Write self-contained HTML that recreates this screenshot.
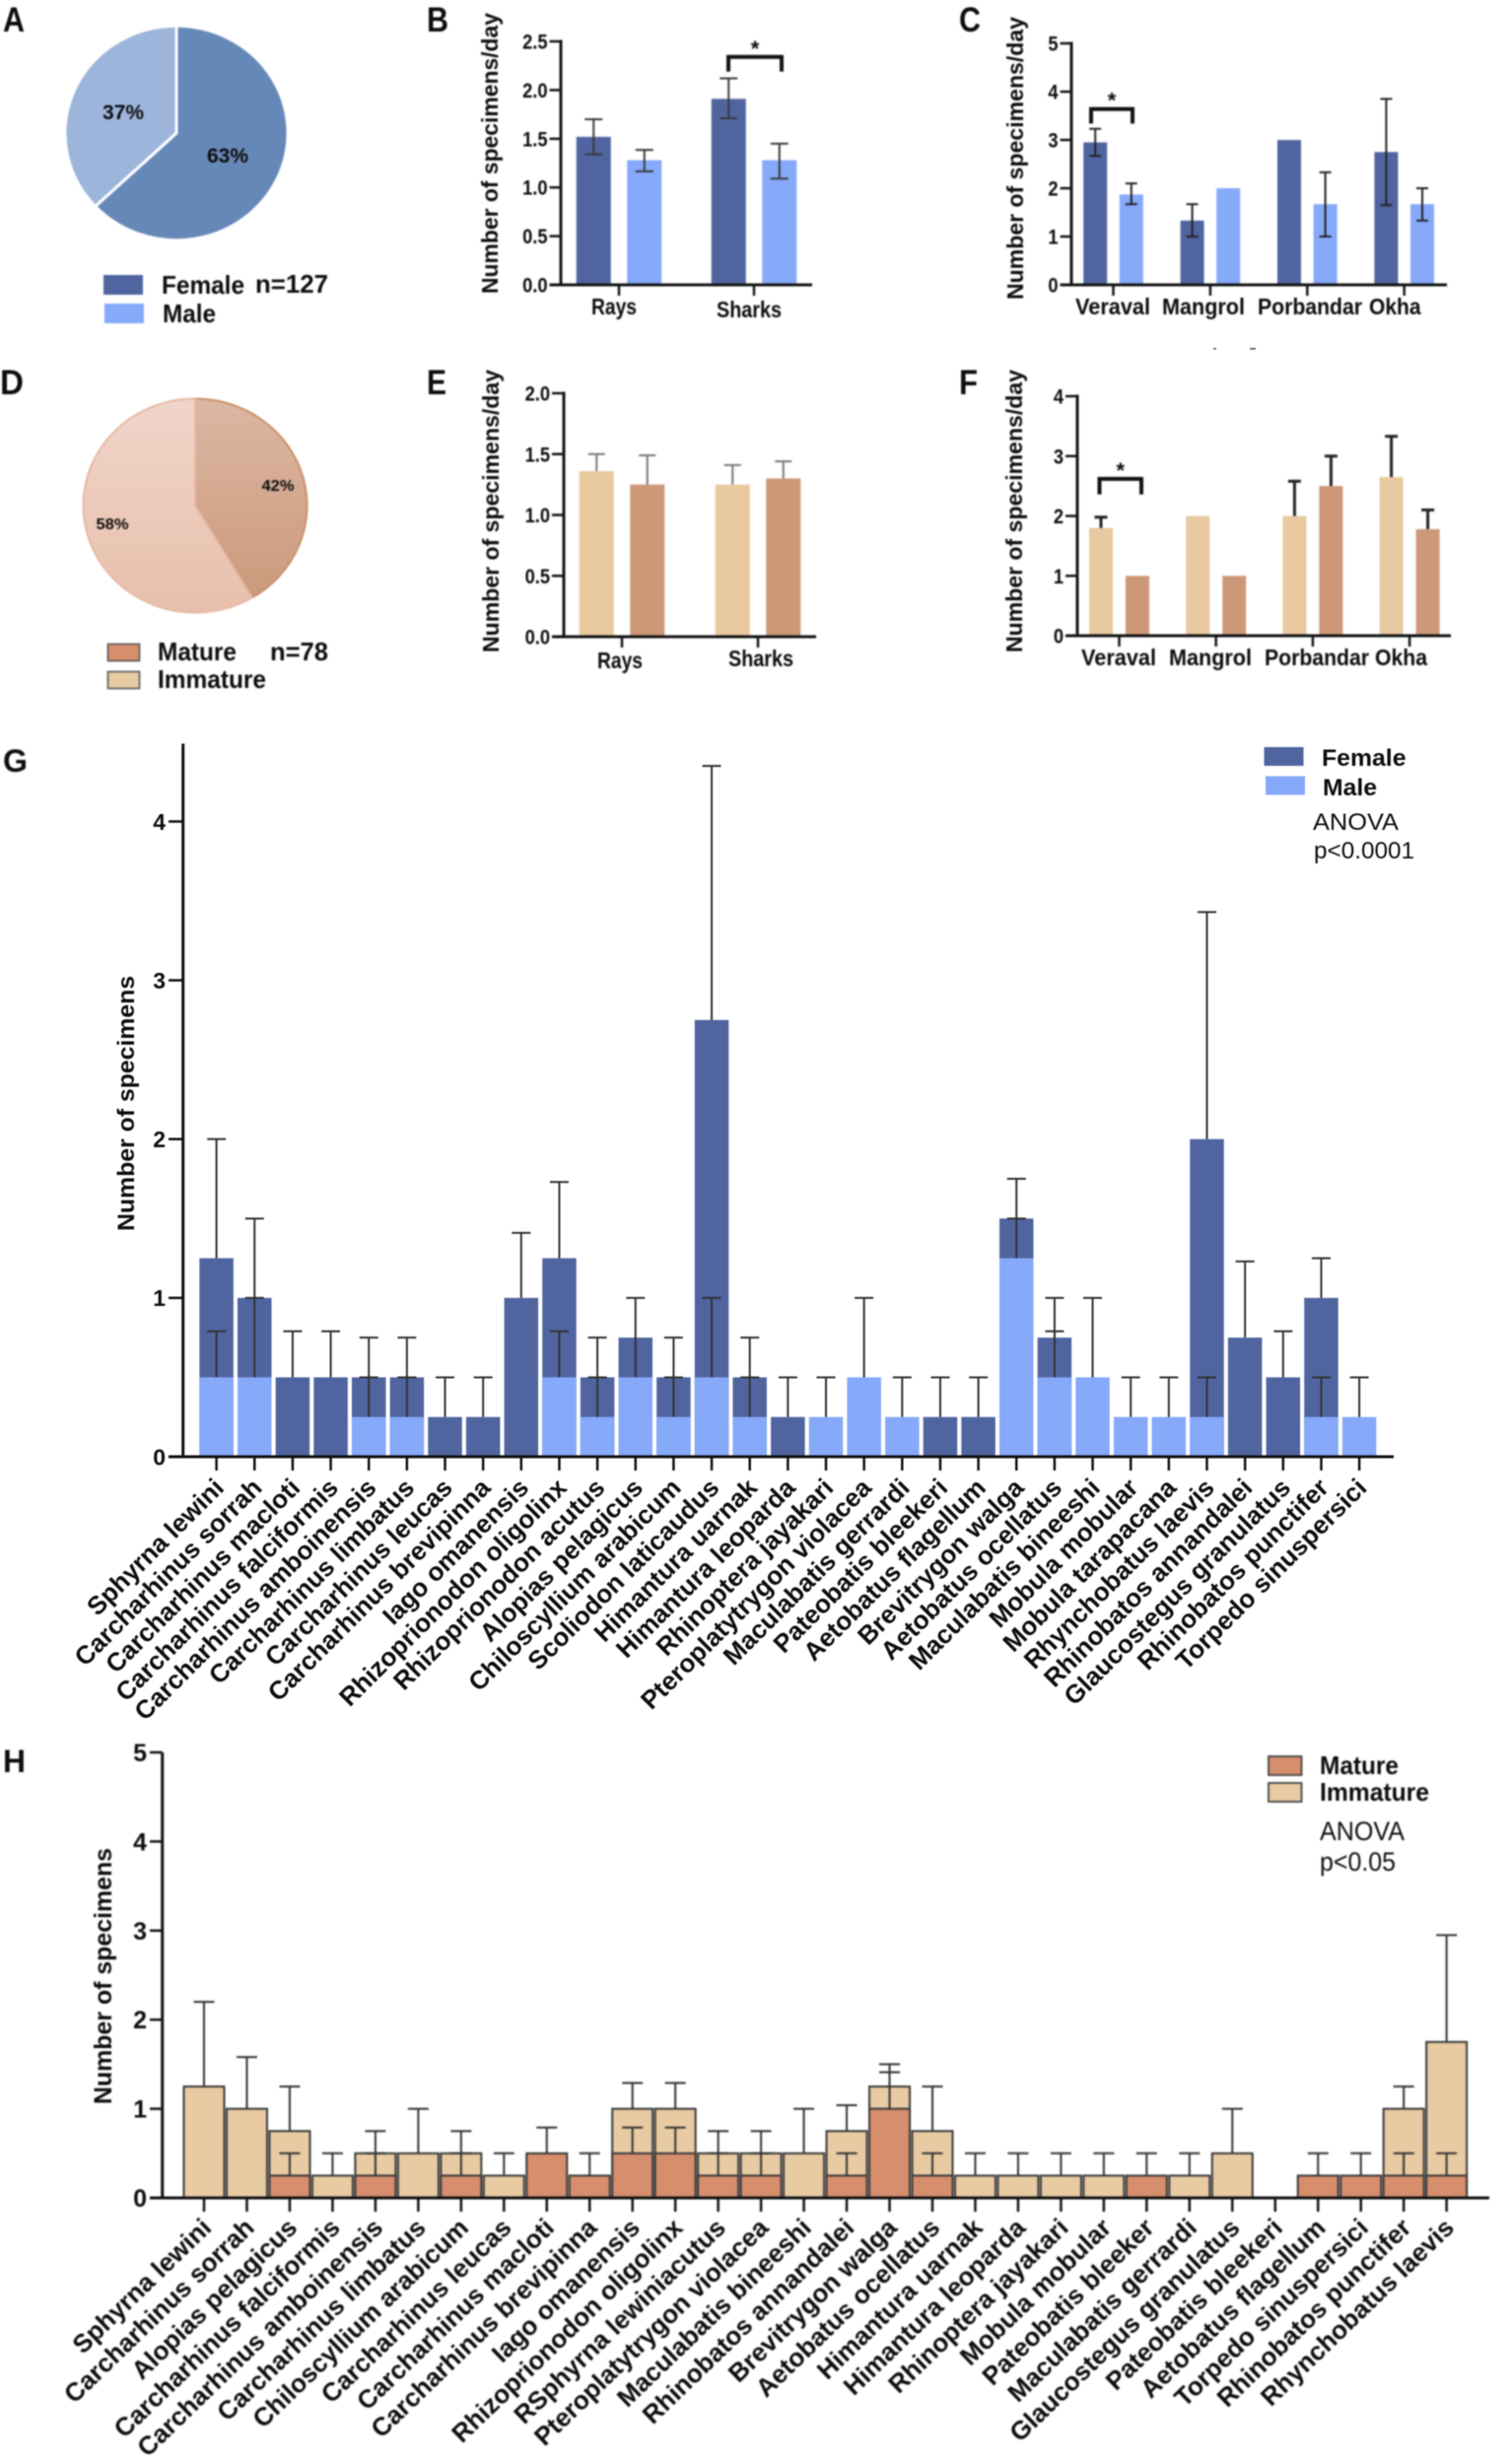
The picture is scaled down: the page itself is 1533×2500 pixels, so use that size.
<!DOCTYPE html>
<html lang="en">
<head>
<meta charset="utf-8">
<title>Elasmobranch landings by sex and maturity</title>
<style>
html,body{margin:0;padding:0;background:#fff;}
svg{display:block;filter:blur(0.45px);}
text{font-family:"Liberation Sans",Arial,sans-serif;fill:#0d0d0d;}
.b{font-weight:bold;}
.soft{filter:blur(0.5px);}
</style>
</head>
<body>
<svg id="fig" xmlns="http://www.w3.org/2000/svg" width="1533" height="2500" viewBox="0 0 1533 2500">
<defs>
<linearGradient id="matureGrad" x1="0" y1="0" x2="0" y2="1"><stop offset="0" stop-color="#dcb7a3"/><stop offset="1" stop-color="#cc9a7c"/></linearGradient>
<linearGradient id="immatureGrad" x1="0" y1="0" x2="0" y2="1"><stop offset="0" stop-color="#f1d6ca"/><stop offset="1" stop-color="#e8bfac"/></linearGradient>
</defs>

<g class="soft">
<text class="b" x="3" y="32" font-size="35" textLength="22" lengthAdjust="spacingAndGlyphs">A</text>
<text class="b" x="433" y="32" font-size="35" textLength="22" lengthAdjust="spacingAndGlyphs">B</text>
<text class="b" x="973" y="32" font-size="35" textLength="22" lengthAdjust="spacingAndGlyphs">C</text>
<text class="b" x="0" y="400" font-size="35" textLength="24" lengthAdjust="spacingAndGlyphs">D</text>
<text class="b" x="433" y="400" font-size="35" textLength="20" lengthAdjust="spacingAndGlyphs">E</text>
<text class="b" x="973" y="400" font-size="35" textLength="19" lengthAdjust="spacingAndGlyphs">F</text>
<text class="b" x="3" y="783" font-size="32" textLength="25" lengthAdjust="spacingAndGlyphs">G</text>
<text class="b" x="3" y="1798" font-size="32" textLength="23" lengthAdjust="spacingAndGlyphs">H</text>
</g>

<g id="pieA" class="soft"></g>
<g class="soft">
<rect x="105" y="279" width="40" height="20" fill="#5065a0"/>
<rect x="106" y="308" width="40" height="20" fill="#86a9fa"/>
<text class="b" x="164" y="298" font-size="26" textLength="84" lengthAdjust="spacingAndGlyphs">Female</text>
<text class="b" x="259" y="297" font-size="26" textLength="74" lengthAdjust="spacingAndGlyphs">n=127</text>
<text class="b" x="165" y="327" font-size="26" textLength="54" lengthAdjust="spacingAndGlyphs">Male</text>
</g>

<g id="chartB" class="soft"></g>
<g id="chartC" class="soft"></g>

<g id="pieD" class="soft"></g>
<g class="soft">
<rect x="109.5" y="653.5" width="32" height="17" fill="#d68e6c" stroke="#555" stroke-width="1.6"/>
<rect x="109.5" y="681.5" width="32" height="17" fill="#e8cba2" stroke="#555" stroke-width="1.6"/>
<text class="b" x="160" y="670" font-size="26" textLength="80" lengthAdjust="spacingAndGlyphs">Mature</text>
<text class="b" x="274" y="670" font-size="26" textLength="59" lengthAdjust="spacingAndGlyphs">n=78</text>
<text class="b" x="160" y="698" font-size="26" textLength="110" lengthAdjust="spacingAndGlyphs">Immature</text>
</g>

<g id="chartE" class="soft"></g>
<g id="chartF" class="soft"></g>
<rect x="1231" y="353" width="3" height="1.6" fill="#555"/>
<rect x="1268" y="353" width="6" height="1.6" fill="#555"/>

<g id="chartG"></g>
<g>
<rect x="1282.5" y="758" width="40" height="19" fill="#5065a0"/>
<rect x="1284" y="787.5" width="40" height="19" fill="#86a9fa"/>
<text class="b" x="1341" y="777" font-size="24" textLength="85.5" lengthAdjust="spacingAndGlyphs">Female</text>
<text class="b" x="1342" y="807" font-size="24" textLength="55" lengthAdjust="spacingAndGlyphs">Male</text>
<text x="1332" y="842" font-size="24" textLength="87" lengthAdjust="spacingAndGlyphs">ANOVA</text>
<text x="1333" y="871" font-size="24" textLength="102" lengthAdjust="spacingAndGlyphs">p&lt;0.0001</text>
</g>

<g id="chartH" class="soft"></g>
<g class="soft">
<rect x="1287" y="1782" width="33.5" height="19" fill="#d68e6c" stroke="#444" stroke-width="1.8"/>
<rect x="1287" y="1809" width="33.5" height="19" fill="#e8cba2" stroke="#444" stroke-width="1.8"/>
<text class="b" x="1339" y="1800" font-size="26" textLength="80" lengthAdjust="spacingAndGlyphs">Mature</text>
<text class="b" x="1339" y="1827" font-size="26" textLength="111" lengthAdjust="spacingAndGlyphs">Immature</text>
<text x="1339" y="1867" font-size="27" textLength="86" lengthAdjust="spacingAndGlyphs">ANOVA</text>
<text x="1339" y="1898" font-size="27" textLength="77" lengthAdjust="spacingAndGlyphs">p&lt;0.05</text>
</g>
</svg>

<script>
/* ---------- data: pies ---------- */
const sexShare = [63, 37];
const sexShareLabels = ["63%", "37%"];
const maturityShare = [41.5, 58.5];
const maturityShareLabels = ["42%", "58%"];

/* ---------- data: panel B ---------- */
const bGroups = ["Rays", "Sharks"];
const bTicks = ["0.0", "0.5", "1.0", "1.5", "2.0", "2.5"];
const bFemale = [1.52, 1.91];
const bFemaleHigh = [1.70, 2.12];
const bFemaleLow = [1.34, 1.71];
const bMale = [1.28, 1.28];
const bMaleHigh = [1.385, 1.45];
const bMaleLow = [1.165, 1.09];

/* ---------- data: panel C ---------- */
const cSites = ["Veraval", "Mangrol", "Porbandar", "Okha"];
const cTicks = ["0", "1", "2", "3", "4", "5"];
const cFemale = [2.95, 1.33, 3, 2.75];
const cFemaleHigh = [3.23, 1.67, null, 3.85];
const cFemaleLow = [2.67, 1.0, null, 1.65];
const cMale = [1.87, 2, 1.67, 1.67];
const cMaleHigh = [2.1, null, 2.33, 2.0];
const cMaleLow = [1.67, null, 1.0, 1.33];

/* ---------- data: panel E ---------- */
const eGroups = ["Rays", "Sharks"];
const eTicks = ["0.0", "0.5", "1.0", "1.5", "2.0"];
const eImmature = [1.36, 1.25];
const eImmatureHigh = [1.5, 1.41];
const eMature = [1.25, 1.3];
const eMatureHigh = [1.49, 1.44];

/* ---------- data: panel F ---------- */
const fSites = ["Veraval", "Mangrol", "Porbandar", "Okha"];
const fTicks = ["0", "1", "2", "3", "4"];
const fImmature = [1.8, 2, 2, 2.65];
const fImmatureHigh = [1.98, null, 2.58, 3.33];
const fMature = [1, 1, 2.5, 1.78];
const fMatureHigh = [null, null, 3.0, 2.1];

/* ---------- data: panel G ---------- */
const gSpecies = ["Sphyrna lewini","Carcharhinus sorrah","Carcharhinus macloti","Carcharhinus falciformis","Carcharhinus amboinensis","Carcharhinus limbatus","Carcharhinus leucas","Carcharhinus brevipinna","Iago omanensis","Rhizoprionodon oligolinx","Rhizoprionodon acutus","Alopias pelagicus","Chiloscyllium arabicum","Scoliodon laticaudus","Himantura uarnak","Himantura leoparda","Rhinoptera jayakari","Pteroplatytrygon violacea","Maculabatis gerrardi","Pateobatis bleekeri","Aetobatus flagellum","Brevitrygon walga","Aetobatus ocellatus","Maculabatis bineeshi","Mobula mobular","Mobula tarapacana","Rhynchobatus laevis","Rhinobatos annandalei","Glaucostegus granulatus","Rhinobatos punctifer","Torpedo sinuspersici"];
const gTicks = ["0", "1", "2", "3", "4"];
const gFemale = [1.25,1,0.5,0.5,0.5,0.5,0.25,0.25,1,1.25,0.5,0.75,0.5,2.75,0.5,0.25,0,0,0,0.25,0.25,1.5,0.75,0,0,0,2,0.75,0.5,1,0];
const gFemaleHigh = [2,1.5,0.79,0.79,0.75,0.75,0.5,0.5,1.41,1.73,0.75,null,0.75,4.35,0.75,0.5,null,null,null,0.5,0.5,1.75,1,null,null,null,3.43,1.23,0.79,1.25,null];
const gMale = [0.5,0.5,0,0,0.25,0.25,0,0,0,0.5,0.25,0.5,0.25,0.5,0.25,0,0.25,0.5,0.25,0,0,1.25,0.5,0.5,0.25,0.25,0.25,0,0,0.25,0.25];
const gMaleHigh = [0.79,1,null,null,0.5,0.5,null,null,null,0.79,0.5,1,0.5,1,0.5,null,0.5,1,0.5,null,null,1.5,0.79,1,0.5,0.5,0.5,null,null,0.5,0.5];

/* ---------- data: panel H ---------- */
const hSpecies = ["Sphyrna lewini","Carcharhinus sorrah","Alopias pelagicus","Carcharhinus falciformis","Carcharhinus amboinensis","Carcharhinus limbatus","Chiloscyllium arabicum","Carcharhinus leucas","Carcharhinus macloti","Carcharhinus brevipinna","Iago omanensis","Rhizoprionodon oligolinx","RSphyrna lewiniacutus","Pteroplatytrygon violacea","Maculabatis bineeshi","Rhinobatos annandalei","Brevitrygon walga","Aetobatus ocellatus","Himantura uarnak","Himantura leoparda","Rhinoptera jayakari","Mobula mobular","Pateobatis bleeker","Maculabatis gerrardi","Glaucostegus granulatus","Pateobatis bleekeri","Aetobatus flagellum","Torpedo sinuspersici","Rhinobatos punctifer","Rhynchobatus laevis"];
const hTicks = ["0", "1", "2", "3", "4", "5"];
const hImmature = [1.25,1,0.75,0.25,0.5,0.5,0.5,0.25,0,0,1,1,0.5,0.5,0.5,0.75,1.25,0.75,0.25,0.25,0.25,0.25,0,0.25,0.5,0,0,0,1,1.75];
const hImmatureHigh = [2.2,1.58,1.25,0.5,0.75,1,0.75,0.5,null,null,1.29,1.29,0.75,0.75,1,1.04,1.5,1.25,0.5,0.5,0.5,0.5,null,0.5,1,null,null,null,1.25,2.95];
const hMature = [0,0,0.25,0,0.25,0,0.25,0,0.5,0.25,0.5,0.5,0.25,0.25,0,0.25,1,0.25,0,0,0,0,0.25,0,0,0,0.25,0.25,0.25,0.25];
const hMatureHigh = [null,null,0.5,null,0.5,null,0.5,null,0.79,0.5,0.79,0.79,0.5,0.5,null,0.5,1.41,0.5,null,null,null,null,0.5,null,null,null,0.5,0.5,0.5,0.5];

/* ---------- significance annotations (value level of bracket top and foot) ---------- */
const bBracketLevels = [2.34, 2.19];
const cBracketLevels = [3.64, 3.34];
const fBracketLevels = [2.62, 2.36];

const NS = "http://www.w3.org/2000/svg";
const C_DARK = "#5065a0", C_BLUE = "#86a9fa", C_TAN = "#e8c9a0", C_BROWN = "#cc9878", C_ORANGE = "#d68e6c";

function add(parent, tag, attrs, name) {
  const el = document.createElementNS(NS, tag);
  for (const k in attrs) el.setAttribute(k, attrs[k]);
  
  
  parent.appendChild(el);
  return el;
}
function label(parent, str, attrs, name) {
  const el = add(parent, "text", attrs, name);
  el.textContent = str;
  return el;
}
function linearY(y0, yTop, maxVal) {
  return v => y0 - (y0 - yTop) * v / maxVal;
}
function line(parent, x1, y1, x2, y2, color, w, name) {
  return add(parent, "line", {x1, y1, x2, y2, stroke: color, "stroke-width": w}, name);
}
function errorBar(parent, x, yA, yB, capW, color, w, lower) {
  line(parent, x, yA, x, yB, color, w, "error-bar-stem");
  line(parent, x - capW / 2, yB, x + capW / 2, yB, color, w, "error-bar-cap");
  if (lower !== undefined) line(parent, x - capW / 2, lower, x + capW / 2, lower, color, w, "error-bar-cap");
}

/* Pie drawn clockwise from twelve o'clock, sweep taken from the share values */
function pie(parent, cx, cy, rx, ry, shares, fills, strokes, strokeW) {
  const total = shares.reduce((a, b) => a + b, 0);
  let a0 = 0;
  shares.forEach((s, i) => {
    const a1 = a0 + s / total * 2 * Math.PI;
    const x0 = cx + rx * Math.sin(a0), y0 = cy - ry * Math.cos(a0);
    const x1 = cx + rx * Math.sin(a1), y1 = cy - ry * Math.cos(a1);
    const large = (a1 - a0) > Math.PI ? 1 : 0;
    add(parent, "path", {
      d: `M${cx} ${cy}L${x0} ${y0}A${rx} ${ry} 0 ${large} 1 ${x1} ${y1}Z`,
      fill: fills[i], stroke: strokes[i], "stroke-width": strokeW, "stroke-linejoin": "round"
    }, "pie-slice");
    a0 = a1;
  });
}

/* Small grouped bar chart (panels B, C, E, F) */
function groupedChart(o) {
  const g = document.getElementById(o.id);
  const y = linearY(o.y0, o.yTop, o.max);
  const xc = i => o.x0 + i * o.step;
  o.series.forEach((s, si) => {
    const off = (si === 0 ? -1 : 1) * o.offset;
    s.values.forEach((v, i) => {
      add(g, "rect", {x: xc(i) + off - o.barW / 2, y: y(v), width: o.barW, height: o.y0 - y(v), fill: s.color}, "bar");
    });
  });
  o.series.forEach((s, si) => {
    const off = (si === 0 ? -1 : 1) * o.offset;
    s.values.forEach((v, i) => {
      const hi = s.high[i];
      if (hi === null) return;
      const lo = s.low ? s.low[i] : null;
      const yStart = lo !== null ? y(lo) : y(v);
      errorBar(g, xc(i) + off, yStart, y(hi), o.capW, o.errColor, o.errW, lo !== null ? y(lo) : undefined);
    });
  });
  line(g, o.axisX, o.yTop - 1.5, o.axisX, o.y0 + 1.5, "#141414", 3, "y-axis-line");
  line(g, o.tickLeft, o.y0, o.xEnd, o.y0, "#141414", 3, "x-axis-line");
  o.ticks.forEach((t, i) => {
    const yy = y(i * o.max / (o.ticks.length - 1));
    line(g, o.tickLeft, yy, o.axisX, yy, "#141414", 2.5, "y-axis-tick");
    const tl = label(g, t, {x: o.tickLeft - 2, y: yy + 7.5, "text-anchor": "end", "font-size": 21, "font-weight": "bold"}, "y-tick-label");
    tl.setAttribute("textLength", tl.getComputedTextLength() * 0.87);
    tl.setAttribute("lengthAdjust", "spacingAndGlyphs");
  });
  o.groups.forEach((name, i) => {
    line(g, xc(i), o.y0, xc(i), o.y0 + 11, "#141414", 2.5, "x-axis-tick");
    const p = o.labelPos[i];
    label(g, name, {x: p[0], y: p[1], "font-size": 23, "font-weight": "bold", textLength: p[2], lengthAdjust: "spacingAndGlyphs"}, "x-tick-label");
  });
  label(g, "Number of specimens/day", {
    transform: `translate(${o.titleX} ${o.titleBottom}) rotate(-90)`, "font-size": 23, "font-weight": "bold",
    textLength: o.titleLen, lengthAdjust: "spacingAndGlyphs"
  }, "y-axis-title");
  if (o.bracket) {
    const bk = o.bracket;
    add(g, "path", {d: `M${bk.x1} ${y(bk.levels[1])}V${y(bk.levels[0])}H${bk.x2}V${y(bk.levels[1])}`, fill: "none", stroke: "#111", "stroke-width": 4}, "significance-bracket");
    label(g, "*", {x: (bk.x1 + bk.x2) / 2, y: y(bk.levels[0]) - 1, "text-anchor": "middle", "font-size": 22, "font-weight": "bold"}, "significance-star");
  }
}

/* Species overlay bar chart (panels G, H) */
function overlayChart(o) {
  const g = document.getElementById(o.id);
  const y = linearY(o.y0, o.yRef, o.refVal);
  const xc = i => o.x0 + i * o.step;
  o.back.values.forEach((v, i) => {
    if (v > 0) add(g, "rect", {x: xc(i) - o.barW / 2, y: y(v), width: o.barW, height: o.y0 - y(v), fill: o.back.color, stroke: o.stroke || "none", "stroke-width": o.strokeW || 0}, "bar-back");
  });
  o.front.values.forEach((v, i) => {
    if (v > 0) add(g, "rect", {x: xc(i) - o.barW / 2, y: y(v), width: o.barW, height: o.y0 - y(v), fill: o.front.color, stroke: o.stroke || "none", "stroke-width": o.strokeW || 0}, "bar-front");
  });
  [o.back, o.front].forEach(s => {
    s.values.forEach((v, i) => {
      if (s.high[i] !== null) errorBar(g, xc(i), y(v), y(s.high[i]), o.capW, "#333", 2, undefined);
    });
  });
  line(g, o.axisX, o.axisTop, o.axisX, o.y0 + 1.5, "#111", 3, "y-axis-line");
  line(g, o.tickLeft, o.y0, o.xEnd, o.y0, "#111", 3, "x-axis-line");
  o.ticks.forEach((t, i) => {
    const yy = y(i);
    line(g, o.tickLeft, yy, o.axisX, yy, "#111", 2.5, "y-axis-tick");
    label(g, t, {x: o.tickLeft - 3, y: yy + o.tickFont * 0.36, "text-anchor": "end", "font-size": o.tickFont, "font-weight": "bold"}, "y-tick-label");
  });
  o.categories.forEach((name, i) => {
    line(g, xc(i), o.y0, xc(i), o.y0 + 14, "#111", 2.5, "x-axis-tick");
    const lx = xc(i) + o.labelDx, ly = o.y0 + o.labelDy;
    label(g, name, {
      x: lx, y: ly, "text-anchor": "end", "font-size": o.labelFont, "font-weight": "bold",
      transform: `rotate(${o.labelAngle} ${lx} ${ly})`
    }, "species-label");
  });
  label(g, "Number of specimens", {
    transform: `translate(${o.titleX} ${o.titleBottom}) rotate(-90)`, "font-size": o.titleFont, "font-weight": "bold",
    textLength: o.titleLen, lengthAdjust: "spacingAndGlyphs"
  }, "y-axis-title");
}

/* --- render --- */
const pieAEl = document.getElementById("pieA");
pie(pieAEl, 179, 135, 113, 108.7, sexShare, ["#6688b8", "#9db5db"], ["#ffffff", "#ffffff"], 3);
label(pieAEl, sexShareLabels[0], {x: 231, y: 165, "text-anchor": "middle", "font-size": 21, "font-weight": "bold", textLength: 42, lengthAdjust: "spacingAndGlyphs"}, "pie-label-female");
label(pieAEl, sexShareLabels[1], {x: 125, y: 121, "text-anchor": "middle", "font-size": 21, "font-weight": "bold", textLength: 42, lengthAdjust: "spacingAndGlyphs"}, "pie-label-male");

const pieDEl = document.getElementById("pieD");
pie(pieDEl, 198, 513, 113.5, 108.5, maturityShare, ["url(#matureGrad)", "url(#immatureGrad)"], ["#c98f68", "#e5b9a3"], 2);
label(pieDEl, maturityShareLabels[0], {x: 282, y: 498, "text-anchor": "middle", "font-size": 16, "font-weight": "bold", textLength: 33, lengthAdjust: "spacingAndGlyphs"}, "pie-label-mature");
label(pieDEl, maturityShareLabels[1], {x: 114, y: 537, "text-anchor": "middle", "font-size": 16, "font-weight": "bold", textLength: 33, lengthAdjust: "spacingAndGlyphs"}, "pie-label-immature");

groupedChart({
  id: "chartB", y0: 289, yTop: 42, max: 2.5, x0: 628, step: 137, offset: 25.75, barW: 35, capW: 18, errColor: "#3a3a3a", errW: 2,
  axisX: 569, tickLeft: 557.5, xEnd: 824, ticks: bTicks, groups: bGroups,
  labelPos: [[600, 319, 46], [727, 322, 66]], titleX: 505, titleBottom: 298, titleLen: 285,
  series: [{values: bFemale, high: bFemaleHigh, low: bFemaleLow, color: C_DARK}, {values: bMale, high: bMaleHigh, low: bMaleLow, color: C_BLUE}],
  bracket: {x1: 739, x2: 793, levels: bBracketLevels}
});
groupedChart({
  id: "chartC", y0: 289, yTop: 44, max: 5, x0: 1129.5, step: 98.4, offset: 18.3, barW: 24, capW: 12, errColor: "#222", errW: 2,
  axisX: 1087, tickLeft: 1075.6, xEnd: 1468, ticks: cTicks, groups: cSites,
  labelPos: [[1091, 319, 76], [1179, 319, 84], [1276, 319, 106], [1389, 319, 52.5]], titleX: 1038, titleBottom: 304, titleLen: 287,
  series: [{values: cFemale, high: cFemaleHigh, low: cFemaleLow, color: C_DARK}, {values: cMale, high: cMaleHigh, low: cMaleLow, color: C_BLUE}],
  bracket: {x1: 1107, x2: 1149, levels: cBracketLevels}
});
groupedChart({
  id: "chartE", y0: 646, yTop: 399, max: 2, x0: 631, step: 138, offset: 25.75, barW: 35, capW: 17, errColor: "#777", errW: 2,
  axisX: 572, tickLeft: 560, xEnd: 828, ticks: eTicks, groups: eGroups,
  labelPos: [[606, 678, 46], [739, 676, 66]], titleX: 506, titleBottom: 662, titleLen: 287,
  series: [{values: eImmature, high: eImmatureHigh, color: C_TAN}, {values: eMature, high: eMatureHigh, color: C_BROWN}]
});
groupedChart({
  id: "chartF", y0: 645, yTop: 402, max: 4, x0: 1135.5, step: 98.2, offset: 18.5, barW: 24, capW: 13, errColor: "#222", errW: 3,
  axisX: 1093, tickLeft: 1081, xEnd: 1472, ticks: fTicks, groups: fSites,
  labelPos: [[1097, 675, 76], [1186, 675, 84], [1283, 675, 106], [1395, 675, 53]], titleX: 1037, titleBottom: 662, titleLen: 287,
  series: [{values: fImmature, high: fImmatureHigh, color: C_TAN}, {values: fMature, high: fMatureHigh, color: C_BROWN}],
  bracket: {x1: 1115.5, x2: 1158, levels: fBracketLevels}
});

overlayChart({
  id: "chartG", y0: 1478, yRef: 833.5, refVal: 4, x0: 219.6, step: 38.65, barW: 34.5, capW: 19,
  axisX: 185.7, axisTop: 754.5, tickLeft: 171, xEnd: 1414, tickFont: 23, ticks: gTicks, categories: gSpecies,
  labelDx: 9, labelDy: 33, labelFont: 26, labelAngle: -45,
  back: {values: gFemale, high: gFemaleHigh, color: C_DARK}, front: {values: gMale, high: gMaleHigh, color: C_BLUE},
  titleFont: 24, titleX: 136, titleBottom: 1249, titleLen: 259
});
overlayChart({
  id: "chartH", y0: 2230, yRef: 1778, refVal: 5, x0: 207, step: 43.47, barW: 41, capW: 21, stroke: "#3a3a3a", strokeW: 2,
  axisX: 164.7, axisTop: 1778, tickLeft: 152, xEnd: 1511, tickFont: 25, ticks: hTicks, categories: hSpecies,
  labelDx: 9, labelDy: 32, labelFont: 26, labelAngle: -44,
  back: {values: hImmature, high: hImmatureHigh, color: "#e8cba2"}, front: {values: hMature, high: hMatureHigh, color: C_ORANGE},
  titleFont: 25, titleX: 113, titleBottom: 2135, titleLen: 260
});
</script>
</body>
</html>
